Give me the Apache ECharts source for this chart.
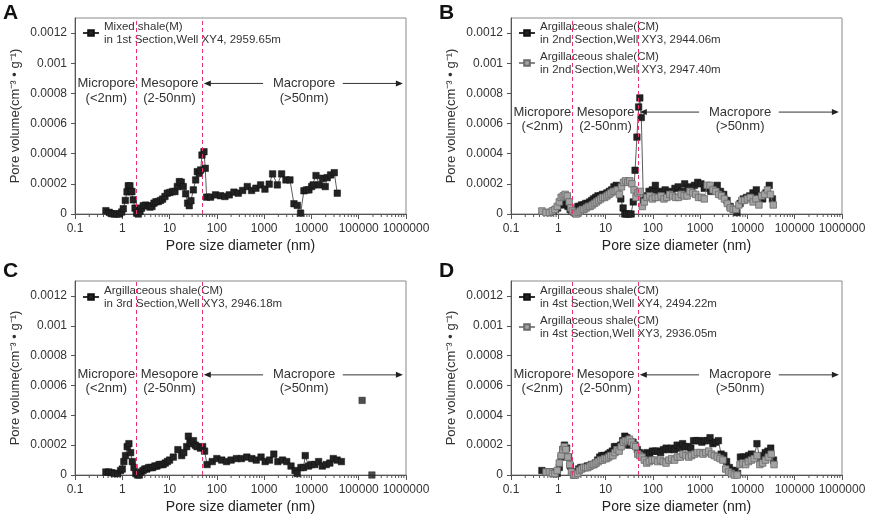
<!DOCTYPE html>
<html><head><meta charset="utf-8">
<script src="https://cdn.jsdelivr.net/npm/echarts@6/dist/echarts.min.js"></script>
<style>html,body{margin:0;padding:0;background:#fff}#c{width:872px;height:515px}</style>
</head><body><div id="c"></div>
<script>
// ---- tick labels ----
const xTickLabels = ['0.1','1','10','100','1000','10000','100000','1000000'];
const yTickLabels = ['0','0.0002','0.0004','0.0006','0.0008','0.001','0.0012'];
const panelLetters = ['A','B','C','D'];

// ---- series names ----
const nameA  = 'Mixed shale(M)\nin 1st Section,Well XY4, 2959.65m';
const nameB1 = 'Argillaceous shale(CM)\nin 2nd Section,Well XY3, 2944.06m';
const nameB2 = 'Argillaceous shale(CM)\nin 2nd Section,Well XY3, 2947.40m';
const nameC  = 'Argillaceous shale(CM)\nin 3rd Section,Well XY3, 2946.18m';
const nameD1 = 'Argillaceous shale(CM)\nin 4st Section,Well XY4, 2494.22m';
const nameD2 = 'Argillaceous shale(CM)\nin 4st Section,Well XY3, 2936.05m';

// ---- data: Panel A ----
const A_x = [0.45,0.53,0.6,0.68,0.76,0.87,0.97,1.05,1.16,1.26,1.34,1.45,1.53,1.6,1.71,1.86,2.01,2.18,2.37,2.57,2.78,3.12,3.55,3.85,4.25,4.68,5.16,5.78,6.47,7.14,7.99,8.96,10.2,11.6,13.0,14.6,16.1,17.7,19.5,21.9,24.1,26.1,28.3,31.8,35.6,38.6,42.5,45.4,48.4,53.4,56.9,60.8,73.8,94,120,148,183,230,284,351,440,543,671,842,1040,1280,1510,1900,2340,2890,3510,4270,5020,5900,6940,7900,8850,10100,10900,12500,14600,17200,19600,21600,25400,30400,35200];
const A_y = [0.000022,0.000011,0.000002,0,0,0,0.000013,0.000035,0.00009,0.000147,0.000187,0.000187,0.000149,0.000149,0.000094,0.000039,0.000006,0,0.000017,0.000039,0.000055,0.000059,0.000055,0.000046,0.00005,0.000072,0.000081,0.000083,0.00009,0.000099,0.000116,0.000138,0.000143,0.000149,0.000149,0.000182,0.000215,0.000211,0.000182,0.000134,0.000072,0.000055,0.000088,0.00016,0.000226,0.000281,0.00027,0.000292,0.000391,0.000413,0.000303,0.000112,0.000112,0.000127,0.000121,0.000116,0.000127,0.000145,0.000138,0.000156,0.000182,0.000156,0.000171,0.000193,0.000165,0.000198,0.000266,0.000193,0.000266,0.000226,0.000226,0.000068,0.000057,0.000006,0.000154,0.00016,0.00016,0.000182,0.000193,0.000255,0.000193,0.000237,0.000182,0.000241,0.000259,0.000274,0.000138];

// ---- data: Panel B ----
const B1_x = [0.66,0.78,0.88,0.97,1.06,1.17,1.3,1.45,1.6,1.78,1.95,2.15,2.35,2.6,2.85,3.1,3.45,3.8,4.2,4.6,5.1,5.6,6.2,6.9,7.7,8.6,9.6,10.7,12,13.4,15,16.8,18.7,21,23.5,25.5,28,31,34.5,38.5,42,46,50,53,57,63,72,83,97,113,132,155,182,213,250,293,343,402,471,552,646,757,887,1040,1220,1430,1670,1960,2300,2690,3150,3700,4300,5100,6000,7000,8200,9600,11200,13100,15400,18000,21000,24700,28900,33800];
const B1_y = [0.00001,0.00002,0.00003,0.00004,0.00006,0.00007,0.00007,0.00006,0.00005,0.00003,0.00002,0.00001,0.00003,0.00005,0.00005,0.00006,0.00006,0.00007,0.00007,0.00008,0.00009,0.0001,0.00011,0.00012,0.00012,0.00013,0.00013,0.00014,0.00015,0.00016,0.00018,0.00019,0.00018,0.0001,0.00004,0,0,0,0,0.00008,0.00029,0.00051,0.00071,0.00077,0.00064,0.00009,0.00012,0.00015,0.00016,0.00019,0.00015,0.00014,0.00016,0.00014,0.00015,0.00017,0.00018,0.00015,0.0002,0.00017,0.00018,0.00019,0.00021,0.0002,0.00017,0.00018,0.00015,0.00017,0.00019,0.00015,0.00013,0.00009,0.00005,0.00003,0.00001,0.00007,0.0001,0.00011,0.00012,0.00014,0.00016,0.00012,0.0001,0.00014,0.00019,0.0001];
const B2_x = [0.45,0.55,0.65,0.75,0.85,0.95,1.05,1.15,1.27,1.4,1.55,1.7,1.85,2.0,2.2,2.4,2.65,2.9,3.2,3.5,3.9,4.3,4.7,5.2,5.8,6.4,7.1,7.9,8.7,9.6,10.7,11.8,13,14.5,16,17.7,19.6,21.7,24,26.5,29.5,32.5,36,40,44,48.5,54,60,66,75,86,98,113,130,150,172,198,228,262,302,347,400,460,530,610,700,805,925,1065,1225,1410,1620,1870,2150,2470,2840,3270,3760,4330,5000,5700,6600,7600,8700,10000,11500,13200,15200,17500,20100,23100,26600,30600,35200];
const B2_y = [0.00002,0.00001,0.00001,0.00002,0.00003,0.00005,0.00008,0.00011,0.00012,0.00013,0.00012,0.00008,0.00004,0.00002,0.00001,0,0.00001,0.00002,0.00003,0.00003,0.00004,0.00005,0.00005,0.00006,0.00007,0.00008,0.00009,0.0001,0.00011,0.00011,0.00012,0.00013,0.00014,0.00015,0.00015,0.00016,0.00013,0.00018,0.00021,0.00022,0.00021,0.00022,0.0002,0.00016,0.00011,0.00014,0.00015,0.00005,0.00008,0.00011,0.00012,0.0001,0.00011,0.00011,0.00012,0.0001,0.00011,0.00013,0.00012,0.00011,0.00011,0.00013,0.00012,0.00012,0.00015,0.00014,0.00013,0.00011,0.00011,0.0001,0.00019,0.00019,0.00016,0.00015,0.00013,0.00012,0.0001,0.00007,0.00004,0.00003,0.00003,0.00006,0.00009,0.00009,0.0001,0.00011,0.00008,0.0001,0.00006,0.00012,0.00013,0.00016,0.00013,0.00006];

// ---- data: Panel C ----
const C_x = [0.45,0.52,0.6,0.68,0.8,0.92,1.0,1.08,1.17,1.27,1.38,1.5,1.63,1.77,1.93,2.1,2.3,2.5,2.75,3.0,3.3,3.6,4.0,4.4,4.9,5.4,6.0,6.6,7.3,8.1,9,10,12,15,18,20,23,25,27,29,32,35,38,45,50,55,62,80,100,127,160,200,260,330,430,550,680,860,1050,1300,1600,1950,2450,3000,3700,4500,5000,6000,6800,7400,8700,10000,11800,14200,17000,20600,24500,29000,35000,43000];
const C_y = [0.00002,0.00002,0.000015,0.00001,0.00001,0.00003,0.00004,0.00009,0.00013,0.00019,0.00021,0.00015,0.00009,0.00005,0.00001,0,0,0.00002,0.00003,0.00004,0.00004,0.00005,0.00005,0.00005,0.00006,0.00006,0.00007,0.00007,0.00007,0.00008,0.00009,0.0001,0.00012,0.00017,0.00013,0.00015,0.00019,0.00026,0.00022,0.00021,0.00023,0.0002,0.00019,0.00018,0.00019,0.00016,0.00007,0.00009,0.00011,0.0001,0.00009,0.0001,0.00011,0.00011,0.00012,0.00011,0.0001,0.00012,0.00009,0.0001,0.00014,0.00009,0.0001,0.00009,0.00006,0.00003,0.00001,0.00005,0.00005,0.00013,0.00006,0.00007,0.00007,0.00009,0.00006,0.00007,0.00008,0.00011,0.0001,0.00009];
const Cout_x = [118000,190000];
const Cout_y = [0.0005,0];

// ---- data: Panel D ----
const D1_x = [0.45,0.55,0.65,0.75,0.85,0.95,1.05,1.15,1.25,1.35,1.5,1.65,1.8,1.95,2.15,2.4,2.7,3.0,3.3,3.7,4.1,4.5,5,5.5,6.1,6.8,7.5,8.3,9.2,10.2,11.3,12.5,13.9,15.4,17,18.8,20.8,23,25.5,28.2,31,34.5,38,42,47,52,58,66,75,86,98,112,128,146,167,191,218,249,285,326,372,425,486,556,635,726,830,950,1085,1240,1420,1620,1860,2120,2430,2780,3170,3630,4150,4740,5420,6200,7100,8100,9300,10600,12100,13900,15900,18200,20800,23800,27200,31100,35600];
const D1_y = [0.00003,0.00002,0.00002,0.00002,0.00001,0.00001,0.00005,0.00012,0.00017,0.0002,0.00018,0.00012,0.00006,0.00002,0,0.00002,0.00004,0.00005,0.00005,0.00005,0.00006,0.00006,0.00007,0.00007,0.00008,0.0001,0.00012,0.00013,0.00013,0.00013,0.00014,0.00015,0.00016,0.00019,0.00019,0.00018,0.0002,0.00023,0.00026,0.00025,0.0002,0.00022,0.00022,0.0002,0.00017,0.00015,0.00014,0.00012,0.00015,0.00014,0.00016,0.00016,0.00016,0.00015,0.00017,0.00018,0.00017,0.00018,0.00017,0.0002,0.00018,0.00021,0.00019,0.00019,0.00018,0.00023,0.00023,0.00023,0.00022,0.00023,0.00023,0.00025,0.00021,0.00022,0.00023,0.00014,0.00013,0.00009,0.00005,0.00003,0.00003,0.00001,0.00012,0.00012,0.00012,0.00013,0.00014,0.00012,0.00021,0.00011,0.00013,0.00015,0.00016,0.00018,0.0001];
const D2_x = [0.55,0.65,0.75,0.85,0.95,1.05,1.15,1.25,1.35,1.45,1.6,1.75,1.9,2.1,2.3,2.55,2.8,3.1,3.45,3.8,4.2,4.7,5.2,5.7,6.3,7,7.8,8.6,9.5,10.5,11.6,12.9,14.3,15.8,17.5,19.4,21.4,23.7,26.2,29,32,35.5,39.3,43.5,48,53,59,66,74,84,96,110,126,145,166,190,218,250,287,330,380,435,500,575,660,760,870,1000,1150,1320,1520,1740,2000,2300,2640,3030,3480,4000,4600,5280,6060,6960,8000,9180,10500,12100,13900,16000,18300,21000,24100,27700,31800,36500];
const D2_y = [0.00002,0.00002,0.00001,0.00001,0.00003,0.00008,0.00013,0.00017,0.00019,0.00017,0.00012,0.00007,0.00002,0,0,0.00001,0.00003,0.00004,0.00005,0.00005,0.00005,0.00006,0.00007,0.00007,0.00008,0.00009,0.0001,0.0001,0.00011,0.00011,0.00012,0.00013,0.00013,0.00015,0.00017,0.00016,0.00019,0.00022,0.00023,0.00023,0.00024,0.00022,0.0002,0.00019,0.00014,0.00013,0.00012,0.0001,0.00008,0.00009,0.0001,0.0001,0.00009,0.0001,0.00009,0.00008,0.0001,0.00011,0.0001,0.00012,0.00012,0.00014,0.00013,0.00012,0.00013,0.00014,0.00015,0.00015,0.00014,0.00015,0.00016,0.00014,0.00013,0.00012,0.00011,0.0001,0.00004,0.00002,0.00001,0,0,0.00007,0.00008,0.00007,0.00009,0.0001,0.00011,0.00013,0.00007,0.00008,0.0001,0.00012,0.00014,0.00007];

// ---- boundaries (nm) ----
const boundaries = [2, 50];

// ---------------- chart building ----------------
const FONT = '"Liberation Sans", Arial, sans-serif';
const zip = (xs, ys) => xs.map((x, i) => [x, ys[i]]);

const gridPos = [
  {left: 75,  top: 18,  width: 331, height: 196},
  {left: 511, top: 18,  width: 331, height: 196},
  {left: 75,  top: 281, width: 331, height: 195},
  {left: 511, top: 281, width: 331, height: 195}
];

const blackStyle = {
  symbol: 'rect', symbolSize: 6.5,
  itemStyle: {color: '#222', borderColor: '#111', borderWidth: 0.5},
  lineStyle: {color: '#333', width: 0.8}
};
const grayStyle = {
  symbol: 'rect', symbolSize: 6.5,
  itemStyle: {color: '#a3a3a3', borderColor: '#6a6a6a', borderWidth: 0.8},
  lineStyle: {color: '#888', width: 0.8}
};

function xLabel(v) {
  const r = +(+v).toPrecision(6);
  const i = Math.round(Math.log10(r)) + 1;
  return xTickLabels[i] !== undefined ? xTickLabels[i] : String(r);
}
function yLabel(v) {
  const i = Math.round(v / 0.0002);
  return yTickLabels[i] !== undefined ? yTickLabels[i] : '';
}

const grids = [], xAxes = [], yAxes = [], series = [], legends = [];
const minorTicks = [];
for (let k = -1; k <= 5; k++) for (let m = 2; m <= 9; m++) minorTicks.push([m * Math.pow(10, k), 0]);

const panelSeries = [
  [{name: nameA,  data: zip(A_x, A_y),  st: blackStyle}],
  [{name: nameB1, data: zip(B1_x, B1_y), st: blackStyle}, {name: nameB2, data: zip(B2_x, B2_y), st: grayStyle}],
  [{name: nameC,  data: zip(C_x, C_y),  st: blackStyle}],
  [{name: nameD1, data: zip(D1_x, D1_y), st: blackStyle}, {name: nameD2, data: zip(D2_x, D2_y), st: grayStyle}]
];
const legendPos = [
  {left: 82,  top: 20},
  {left: 518, top: 20},
  {left: 82,  top: 284},
  {left: 518, top: 284}
];

for (let i = 0; i < 4; i++) {
  grids.push(Object.assign({show: true, borderColor: '#8a8a8a', borderWidth: 1, containLabel: false}, gridPos[i]));
  xAxes.push({
    type: 'log', logBase: 10, min: 0.1, max: 1000000, splitNumber: 7, gridIndex: i,
    name: 'Pore size diameter (nm)', nameLocation: 'middle', nameGap: 25,
    nameTextStyle: {fontSize: 14, color: '#222', fontFamily: FONT},
    axisLine: {show: true, onZero: false, lineStyle: {color: '#555', width: 1}},
    axisTick: {show: true, inside: false, length: 5, lineStyle: {color: '#555'}},
    axisLabel: {fontSize: 12, color: '#333', margin: 9, fontFamily: FONT, formatter: xLabel},
    splitLine: {show: false}
  });
  yAxes.push({
    type: 'value', min: 0, max: 0.0013, interval: 0.0002, gridIndex: i,
    name: 'Pore volume(cm\u207B\u00B3 \u2022 g\u207B\u00B9)', nameLocation: 'middle', nameGap: 53,
    nameTextStyle: {fontSize: 13, color: '#333', fontFamily: FONT},
    axisLine: {show: true, lineStyle: {color: '#555', width: 1}},
    axisTick: {show: true, inside: false, length: 4, lineStyle: {color: '#555'}},
    axisLabel: {fontSize: 12, color: '#333', margin: 8, fontFamily: FONT, formatter: yLabel, showMaxLabel: false},
    splitLine: {show: false}
  });
  panelSeries[i].forEach((s, j) => {
    const ser = Object.assign({
      type: 'line', name: s.name, data: s.data, xAxisIndex: i, yAxisIndex: i,
      showAllSymbol: true, z: 3 + j
    }, s.st);
    if (j === 0) {
      ser.markLine = {
        silent: true, symbol: 'none', animation: false,
        lineStyle: {color: '#e8336b', type: [4, 3], width: 1},
        label: {show: false},
        data: boundaries.map(b => ({xAxis: b}))
      };
    }
    series.push(ser);
  });
  if (i === 2) {
    series.push(Object.assign({
      type: 'scatter', name: nameC, data: zip(Cout_x, Cout_y), xAxisIndex: i, yAxisIndex: i, z: 3
    }, {symbol: 'rect', symbolSize: 6.5, itemStyle: blackStyle.itemStyle}));
  }
  series.push({
    type: 'custom', xAxisIndex: i, yAxisIndex: i, data: minorTicks, silent: true, clip: false, z: 2,
    renderItem: function (params, api) {
      const p = api.coord([api.value(0), 0]);
      return {type: 'line', shape: {x1: p[0], y1: p[1], x2: p[0], y2: p[1] + 3},
              style: {stroke: '#555', lineWidth: 1}};
    }
  });
  legends.push(Object.assign({
    orient: 'vertical', padding: 0, itemGap: 4, itemWidth: 16, itemHeight: 7,
    data: panelSeries[i].map(s => s.name), selectedMode: false,
    textStyle: {fontSize: 11.5, lineHeight: 13, color: '#333', fontFamily: FONT}
  }, legendPos[i]));
}

const chart = echarts.init(document.getElementById('c'), null, {renderer: 'canvas'});
chart.setOption({
  animation: false,
  backgroundColor: '#fff',
  textStyle: {fontFamily: FONT},
  grid: grids, xAxis: xAxes, yAxis: yAxes, series: series, legend: legends
});

// annotation layout (data coordinates)
const annY = [
  [0.000866, 0.000767],
  [0.000676, 0.000582],
  [0.000671, 0.000583],
  [0.000671, 0.000583]
];
const annX = {micro: 0.46, meso: 10, macro: 7000, arrL: [53, 950], arrR: [46000, 860000]};
const letterPos = [[3, 3], [439, 3], [3, 261], [439, 261]];

const graphics = [];
function txt(x, y, t) {
  graphics.push({type: 'text', silent: true, style: {x: x, y: y, text: t, textAlign: 'center', textVerticalAlign: 'middle',
    font: '13px ' + FONT, fill: '#333'}});
}
function arrow(x1, x2, y) { // head at x1 pointing toward x1
  const dir = x1 < x2 ? 1 : -1;
  graphics.push({type: 'line', silent: true, shape: {x1: x1 + dir * 5, y1: y, x2: x2, y2: y}, style: {stroke: '#333', lineWidth: 1}});
  graphics.push({type: 'polygon', silent: true, shape: {points: [[x1, y], [x1 + dir * 7, y - 3], [x1 + dir * 7, y + 3]]}, style: {fill: '#222'}});
}
for (let i = 0; i < 4; i++) {
  const c = (x, y) => chart.convertToPixel({gridIndex: i}, [x, y]);
  const [y1, y2] = annY[i];
  let p = c(annX.micro, y1); txt(p[0], p[1], 'Micropore');
  p = c(annX.micro, y2); txt(p[0], p[1], '(<2nm)');
  p = c(annX.meso, y1); txt(p[0], p[1], 'Mesopore');
  p = c(annX.meso, y2); txt(p[0], p[1], '(2-50nm)');
  p = c(annX.macro, y1); txt(p[0], p[1], 'Macropore');
  p = c(annX.macro, y2); txt(p[0], p[1], '(>50nm)');
  const a = c(annX.arrL[0], y1), b = c(annX.arrL[1], y1);
  arrow(a[0], b[0], a[1]);
  const d = c(annX.arrR[1], y1), e = c(annX.arrR[0], y1);
  arrow(d[0], e[0], d[1]);
  graphics.push({type: 'text', silent: true, style: {x: letterPos[i][0], y: letterPos[i][1], text: panelLetters[i],
    font: 'bold 21px ' + FONT, fill: '#111'}});
}
chart.setOption({graphic: graphics});
</script>
</body></html>
